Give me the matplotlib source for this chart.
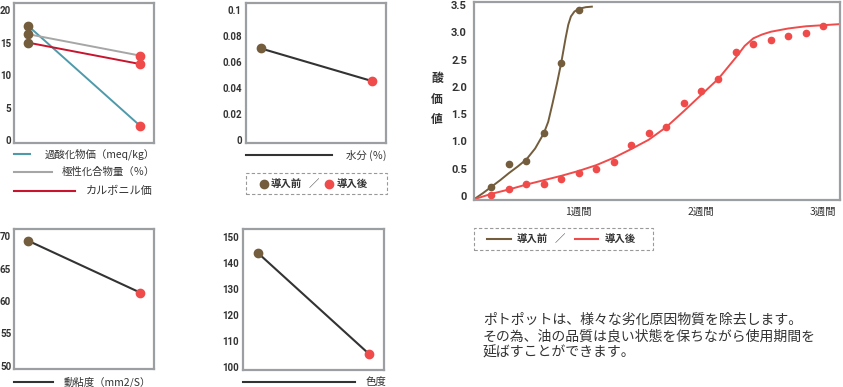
import matplotlib
matplotlib.use("Agg")
import matplotlib.pyplot as plt
import matplotlib.patches as patches
from matplotlib.lines import Line2D

plt.rcParams['font.family'] = ['Noto Sans CJK JP', 'DejaVu Sans']

W, H = 843, 387

# ---- data ----
phase = [0, 1]                      # before / after introduction
peroxide = [17.6, 2.2]              # 過酸化物価
polar = [16.3, 13.0]                # 極性化合物量
carbonyl = [15.0, 11.7]             # カルボニル価
water = [0.0705, 0.0454]            # 水分
viscosity = [69.3, 61.3]            # 動粘度
chroma = [143.9, 104.8]             # 色度

before_days = [2, 3, 4, 5, 6, 7]
before_acid = [0.17, 0.58, 0.64, 1.15, 2.44, 3.41]
after_days = list(range(2, 22))
after_acid = [0.02, 0.12, 0.22, 0.22, 0.32, 0.42, 0.50, 0.62, 0.94, 1.15,
              1.26, 1.71, 1.93, 2.14, 2.63, 2.79, 2.86, 2.93, 2.99, 3.11]

before_curve_x = [1, 1.5, 2, 2.5, 3, 3.5, 4, 4.5, 5, 5.25, 5.5, 5.75, 6,
                  6.25, 6.4, 6.55, 6.75, 7, 7.4, 7.75]
before_curve_y = [-0.06, 0.05, 0.17, 0.29, 0.42, 0.54, 0.67, 0.87, 1.15, 1.36,
                  1.70, 2.06, 2.45, 2.90, 3.14, 3.29, 3.38, 3.43, 3.46, 3.47]
after_curve_x = [1, 2, 3, 4, 5, 6, 7, 8, 9, 10, 11, 12, 13, 14, 15, 16,
                 16.5, 17, 17.5, 18, 19, 20, 21, 21.96]
after_curve_y = [-0.06, 0.04, 0.12, 0.21, 0.29, 0.37, 0.46, 0.565, 0.70, 0.86,
                 1.03, 1.26, 1.55, 1.85, 2.15, 2.54, 2.75, 2.89, 2.96, 3.01,
                 3.07, 3.11, 3.13, 3.15]

week_ticks = [7, 14, 21]
week_labels = ['1週間', '2週間', '3週間']

BROWN = '#735d3d'
RED = '#f04b4b'
TEAL = '#4f9aaa'
GRAY = '#a6a6a6'
DARKRED = '#c8142c'
INK = '#333333'
FRAME = '#9b9fa2'

fig = plt.figure(figsize=(W / 100, H / 100), dpi=100)


def px_axes(left, top, right, bottom):
    return fig.add_axes([left / W, 1 - bottom / H, (right - left) / W, (bottom - top) / H])


def fx(x):
    return x / W


def fy(y):
    return 1 - y / H


def style_frame(ax, ticks, labels, fs=7, pad=2):
    for s in ax.spines.values():
        s.set_color(FRAME)
        s.set_linewidth(1.6)
    ax.set_xticks([])
    ax.set_yticks(ticks)
    ax.set_yticklabels(labels, family='Roboto', weight='bold', fontsize=fs, color=INK)
    ax.tick_params(axis='y', length=0, pad=pad)


def before_after(ax, vals, color=INK):
    ax.plot(phase, vals, color=color, lw=1.5, zorder=2)
    ax.plot(phase[0], vals[0], 'o', ms=6, color=BROWN, zorder=3)
    ax.plot(phase[1], vals[1], 'o', ms=6, color=RED, zorder=3)


def legend_line(x0, x1, y, color, label, tx, ha='right', weight='normal', fs=7.5):
    fig.add_artist(Line2D([fx(x0), fx(x1)], [fy(y), fy(y)], color=color, lw=1.5))
    fig.text(fx(tx), fy(y), label, ha=ha, va='center', fontsize=fs,
             color=INK, weight=weight)


# panel 1: three oil indices
ax1 = px_axes(14, 3, 154, 143)
ax1.plot(phase, peroxide, color=TEAL, lw=1.4, zorder=2)
ax1.plot(phase, polar, color=GRAY, lw=1.4, zorder=2)
ax1.plot(phase, carbonyl, color=DARKRED, lw=1.4, zorder=2)
for series in (peroxide, polar, carbonyl):
    ax1.plot(phase[0], series[0], 'o', ms=6, color=BROWN, zorder=3)
    ax1.plot(phase[1], series[1], 'o', ms=6, color=RED, zorder=3)
ax1.set_xlim(-0.125, 1.125)
ax1.set_ylim(-0.46, 21.1)
style_frame(ax1, [0, 5, 10, 15, 20], ['0', '5', '10', '15', '20'])
legend_line(14, 30, 154, TEAL, '過酸化物価（meq/kg）', 155)
legend_line(14, 52, 172, GRAY, '極性化合物量（％）', 155)
legend_line(14, 75, 191, DARKRED, 'カルボニル価', 153, fs=8)

# panel 2: water
ax2 = px_axes(246, 3, 386, 143)
before_after(ax2, water)
ax2.set_xlim(-0.132, 1.128)
ax2.set_ylim(-0.0023, 0.1054)
style_frame(ax2, [0, 0.02, 0.04, 0.06, 0.08, 0.1],
            ['0', '0.02', '0.04', '0.06', '0.08', '0.1'], pad=3)
legend_line(246, 332, 155, INK, '水分 (％)', 387)

# small dashed legend box
fig.add_artist(patches.Rectangle((fx(246), fy(194)), fx(387) - fx(246), fy(173) - fy(194),
                                 fill=False, ec='#999999', lw=0.8, ls=(0, (3, 2))))
fig.add_artist(Line2D([fx(263.5)], [fy(184)], marker='o', ms=6, color=BROWN, lw=0))
fig.text(fx(271), fy(184), '導入前', ha='left', va='center', fontsize=7.5, color=INK, weight='bold')
fig.text(fx(314), fy(184), '／', ha='center', va='center', fontsize=7.5, color=INK)
fig.add_artist(Line2D([fx(329)], [fy(184)], marker='o', ms=6, color=RED, lw=0))
fig.text(fx(337), fy(184), '導入後', ha='left', va='center', fontsize=7.5, color=INK, weight='bold')

# panel 3: acid value over time
ax3 = px_axes(474, 2, 840, 200)
ax3.plot(before_curve_x, before_curve_y, color=BROWN, lw=1.4, zorder=2)
ax3.plot(after_curve_x, after_curve_y, color=RED, lw=1.4, zorder=2)
ax3.plot(before_days, before_acid, 'o', ms=4.5, color=BROWN, zorder=3)
ax3.plot(after_days, after_acid, 'o', ms=4.5, color=RED, zorder=3)
ax3.set_xlim(1, 21.96)
ax3.set_ylim(-0.073, 3.555)
style_frame(ax3, [0, 0.5, 1.0, 1.5, 2.0, 2.5, 3.0, 3.5],
            ['0', '0.5', '1.0', '1.5', '2.0', '2.5', '3.0', '3.5'], fs=8, pad=5)
ax3.set_xticks(week_ticks)
ax3.set_xticklabels(week_labels, fontsize=7.5, color=INK)
ax3.tick_params(axis='x', length=0, pad=5)
fig.text(fx(437), fy(99), '酸\n価\n値', ha='center', va='center', fontsize=8.5,
         color=INK, weight='bold', linespacing=1.75)

fig.add_artist(patches.Rectangle((fx(474), fy(250)), fx(653) - fx(474), fy(228) - fy(250),
                                 fill=False, ec='#999999', lw=0.8, ls=(0, (3, 2))))
legend_line(487, 511, 239, BROWN, '導入前', 517, ha='left', weight='bold')
fig.text(fx(560), fy(239), '／', ha='center', va='center', fontsize=7.5, color=INK)
legend_line(575, 598, 239, RED, '導入後', 605, ha='left', weight='bold')

# panel 4: viscosity
ax4 = px_axes(14, 229, 154, 369)
before_after(ax4, viscosity)
ax4.set_xlim(-0.125, 1.125)
ax4.set_ylim(49.5, 71.1)
style_frame(ax4, [50, 55, 60, 65, 70], ['50', '55', '60', '65', '70'])
legend_line(14, 53, 382, INK, '動粘度（mm2/S）', 151)

# panel 5: colour
ax5 = px_axes(243, 229, 384, 370)
before_after(ax5, chroma)
ax5.set_xlim(-0.135, 1.132)
ax5.set_ylim(98.7, 153.2)
style_frame(ax5, [100, 110, 120, 130, 140, 150],
            ['100', '110', '120', '130', '140', '150'], pad=3)
legend_line(243, 355, 382, INK, '色度', 386)

# description
fig.text(fx(483), fy(336.5),
         'ポトポットは、様々な劣化原因物質を除去します。\n'
         'その為、油の品質は良い状態を保ちながら使用期間を\n'
         '延ばすことができます。',
         ha='left', va='center', fontsize=10, color=INK, linespacing=1.2)

fig.savefig('out.png', dpi=100)
